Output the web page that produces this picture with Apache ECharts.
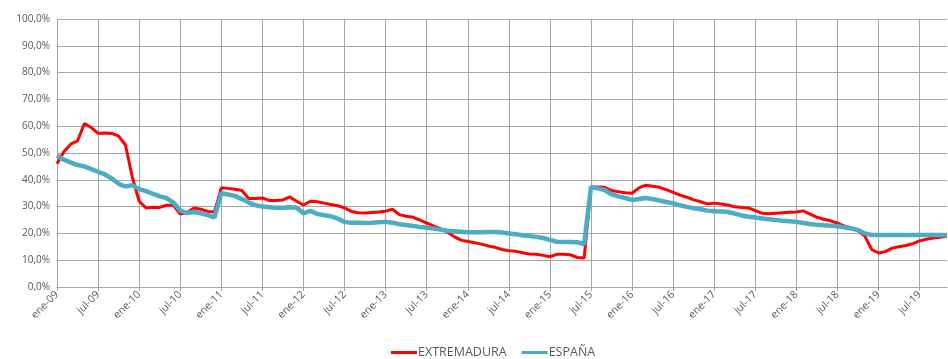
<!DOCTYPE html>
<html><head><meta charset="utf-8">
<script src="https://cdn.jsdelivr.net/npm/echarts@6/dist/echarts.min.js"></script>
<style>html,body{margin:0;padding:0;background:#fff}#c{width:948px;height:359px}</style>
</head><body><div id="c"></div>
<script>
const monthNames = ['ene','feb','mar','abr','may','jun','jul','ago','sep','oct','nov','dic'];
const startYear = 2009, monthCount = 131; // ene-09 .. nov-19
const categories = [];
for (let i = 0; i < monthCount; i++) {
  const y = startYear + Math.floor(i / 12);
  categories.push(monthNames[i % 12] + '-' + String(y).slice(2));
}
const seriesNames = ['EXTREMADURA', 'ESPAÑA'];
const extremadura = [
  46, 50.5, 53.3, 54.5, 61, 59.5, 57.3, 57.5, 57.3, 56.3, 53, 41, 32, 29.5, 29.8, 29.7, 30.5, 30.5, 27.2, 27.8, 29.5, 29, 28.2, 28,
  37, 36.8, 36.5, 36, 33, 33, 33.2, 32.3, 32.3, 32.5, 33.6, 32, 30.6, 32, 31.8, 31.3, 30.8, 30.3, 29.5, 28.2, 27.7, 27.6, 27.8, 28,
  28.3, 29, 27, 26.4, 26, 25, 23.8, 22.8, 21.8, 20.5, 18.8, 17.5, 17, 16.5, 16, 15.3, 14.8, 14, 13.5, 13.3, 12.8, 12.3, 12.2, 11.8,
  11.3, 12.2, 12.2, 12, 11, 10.8, 37.3, 37.3, 37.2, 36, 35.5, 35.2, 35, 37, 38, 37.6, 37.2, 36.3, 35.3, 34.3, 33.5, 32.5, 31.8, 31,
  31.3, 31, 30.6, 29.9, 29.7, 29.5, 28.5, 27.5, 27.3, 27.5, 27.7, 27.9, 28, 28.4, 27.2, 26, 25.3, 24.7, 23.8, 22.8, 22, 21, 19, 14,
  12.7, 13.2, 14.5, 15, 15.5, 16.2, 17.2, 17.8, 18.3, 18.6, 19
];
const espana = [
  49, 47.5, 46.5, 45.5, 45, 44, 43, 42, 40.5, 38.5, 37.5, 38, 36.5, 35.8, 34.8, 33.8, 33.2, 31.5, 28.5, 27.6, 28, 27.5, 26.8, 26,
  35, 34.5, 34, 32.8, 31.5, 30.5, 30, 29.8, 29.6, 29.6, 29.8, 29.6, 27.5, 28.4, 27.3, 26.8, 26.4, 25.5, 24.3, 24, 24, 23.9, 24, 24.2,
  24.3, 24, 23.4, 23.1, 22.8, 22.4, 22.1, 21.8, 21.4, 21, 20.8, 20.6, 20.4, 20.4, 20.4, 20.5, 20.5, 20.3, 20, 19.7, 19.3, 19, 18.7, 18.3,
  17.6, 16.9, 16.8, 16.8, 16.7, 16, 37.3, 36.8, 36.2, 34.6, 33.8, 33.2, 32.5, 32.8, 33.2, 32.8, 32.3, 31.7, 31.2, 30.5, 29.9, 29.4, 29, 28.5,
  28.3, 28.2, 28, 27.4, 26.7, 26.2, 25.9, 25.6, 25.3, 25, 24.7, 24.5, 24.3, 23.9, 23.5, 23.2, 23, 22.9, 22.7, 22.3, 21.8, 21.3, 20, 19.4,
  19.4, 19.4, 19.4, 19.4, 19.4, 19.4, 19.4, 19.4, 19.4, 19.4, 19.4
];
const colors = ['#ff0000', '#4bacc6'];
const everySix = (i) => i % 6 === 0;
const chart = echarts.init(document.getElementById('c'), null, {renderer: 'canvas'});
chart.setOption({
  animation: false,
  textStyle: {fontFamily: 'Open Sans, Liberation Sans, sans-serif'},
  grid: {left: 57, right: 1, top: 19, bottom: 72},
  legend: {
    data: seriesNames, left: 386, top: 341, icon: 'rect', itemWidth: 26, itemHeight: 3, itemGap: 15,
    textStyle: {color: '#595959', fontSize: 12.5, padding: [0, 0, 0, -4]}
  },
  xAxis: {
    type: 'category', data: categories, boundaryGap: false,
    axisLine: {lineStyle: {color: '#a6a6a6'}},
    axisTick: {show: true, interval: everySix, length: 4, lineStyle: {color: '#a6a6a6'}},
    axisLabel: {interval: everySix, rotate: 45, color: '#595959', fontSize: 10.5, margin: 6},
    splitLine: {show: true, interval: everySix, lineStyle: {color: '#a6a6a6', width: 1}}
  },
  yAxis: {
    type: 'value', min: 0, max: 100, interval: 10,
    axisLine: {show: true, lineStyle: {color: '#a6a6a6'}},
    axisTick: {show: false},
    axisLabel: {color: '#595959', fontSize: 10, margin: 7, formatter: v => v.toFixed(1).replace('.', ',') + '%'},
    splitLine: {lineStyle: {color: '#a6a6a6', width: 1}}
  },
  series: [
    {name: seriesNames[0], type: 'line', data: extremadura, showSymbol: false, symbol: 'none', color: colors[0], lineStyle: {width: 3, color: colors[0]}},
    {name: seriesNames[1], type: 'line', data: espana, showSymbol: false, symbol: 'none', color: colors[1], lineStyle: {width: 4.5, color: colors[1]}}
  ]
});
</script></body></html>
